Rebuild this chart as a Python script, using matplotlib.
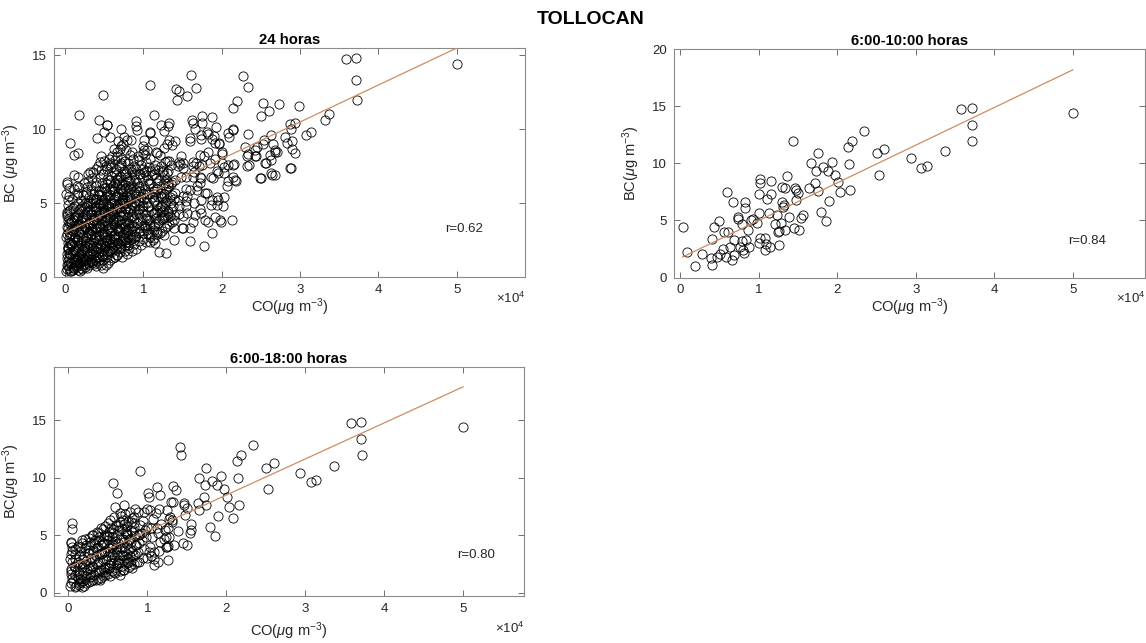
import matplotlib
matplotlib.use('Agg')
import matplotlib.pyplot as plt
import numpy as np

# CO in units of 1e4 ug/m3, BC in ug/m3
# 6:00-10:00 subset
pts_6_10 = [
    (0.03, 4.44), (0.08, 2.25), (0.19, 1.02), (0.28, 2.05), (0.39, 1.75), (0.40, 1.08),
    (0.41, 3.36), (0.43, 4.44), (0.49, 4.91), (0.47, 1.81), (0.51, 2.10), (0.54, 2.54),
    (0.56, 4.00), (0.59, 7.46), (0.61, 3.95), (0.58, 1.81), (0.63, 2.69), (0.66, 1.52),
    (0.67, 6.64), (0.68, 3.27), (0.69, 1.96), (0.73, 5.32), (0.74, 5.09), (0.76, 2.63),
    (0.78, 4.68), (0.78, 3.22), (0.80, 2.40), (0.81, 2.16), (0.83, 6.58), (0.83, 6.05),
    (0.84, 3.27), (0.86, 4.15), (0.87, 2.69), (0.90, 5.03), (0.93, 5.15), (0.98, 4.80),
    (1.00, 5.67), (1.00, 7.31), (1.01, 8.63), (1.02, 8.30), (1.02, 3.50), (1.00, 2.98),
    (1.08, 3.50), (1.08, 2.40), (1.09, 2.92), (1.11, 6.90), (1.13, 5.61), (1.14, 2.63),
    (1.15, 7.31), (1.16, 8.48), (1.21, 4.68), (1.23, 5.47), (1.24, 3.95), (1.26, 4.09),
    (1.26, 2.84), (1.28, 4.80), (1.29, 6.58), (1.30, 7.89), (1.31, 6.14), (1.32, 6.35),
    (1.33, 7.87), (1.34, 4.15), (1.36, 8.92), (1.39, 5.32), (1.43, 11.99), (1.45, 4.30),
    (1.46, 7.81), (1.47, 7.66), (1.48, 6.78), (1.50, 7.37), (1.51, 4.15), (1.54, 5.18),
    (1.56, 5.47), (1.64, 7.81), (1.66, 10.00), (1.72, 8.30), (1.73, 9.36), (1.75, 10.88),
    (1.75, 7.60), (1.79, 5.70), (1.82, 9.70), (1.86, 4.91), (1.88, 9.36), (1.89, 6.70),
    (1.93, 10.15), (1.97, 8.98), (2.01, 8.33), (2.03, 7.46), (2.14, 11.46), (2.15, 9.94),
    (2.16, 7.66), (2.19, 11.93), (2.34, 12.87), (2.50, 10.88), (2.53, 8.98), (2.60, 11.26),
    (2.94, 10.44), (3.07, 9.62), (3.14, 9.80), (3.37, 11.05), (3.58, 14.74), (3.71, 14.82),
    (3.71, 13.36), (3.72, 11.96), (5.00, 14.40),
]

# points added in the 6:00-18:00 window
pts_6_18_extra = [
    (1.42, 12.70), (0.91, 10.55), (0.57, 9.50), (0.62, 8.65), (0.05, 6.06), (0.05, 5.50),
    (2.08, 6.50), (1.65, 7.15), (1.33, 9.30), (1.12, 9.20), (1.55, 5.95), (0.03, 4.30),
    (0.18, 4.55),
    (0.02, 0.55), (0.06, 1.00), (0.03, 1.60), (0.07, 2.30), (0.02, 2.95), (0.05, 3.65), (0.04, 2.05),
    (0.10, 0.60), (0.12, 1.25), (0.11, 1.85), (0.13, 2.65), (0.09, 3.35), (0.12, 4.05), (0.14, 0.85),
    (0.17, 0.50), (0.16, 0.95), (0.18, 1.50), (0.17, 2.20), (0.19, 2.90), (0.16, 3.60), (0.18, 4.35),
    (0.23, 0.80), (0.22, 1.40), (0.24, 2.00), (0.23, 2.75), (0.25, 3.40), (0.22, 4.10), (0.21, 4.70),
    (0.29, 1.00), (0.28, 1.65), (0.30, 2.30), (0.29, 3.00), (0.31, 3.70), (0.28, 4.40), (0.30, 5.05),
    (0.35, 1.10), (0.34, 1.80), (0.36, 2.50), (0.35, 3.20), (0.37, 3.90), (0.34, 4.60), (0.36, 5.30),
    (0.41, 1.30), (0.42, 2.00), (0.40, 2.70), (0.43, 3.40), (0.41, 4.10), (0.39, 4.85), (0.42, 5.60),
    (0.47, 1.50), (0.46, 2.20), (0.48, 2.90), (0.47, 3.60), (0.45, 4.30), (0.48, 5.00), (0.46, 5.80),
    (0.53, 1.40), (0.52, 2.10), (0.54, 2.85), (0.53, 3.55), (0.55, 4.25), (0.52, 4.95), (0.54, 5.65),
    (0.53, 6.30), (0.59, 1.70), (0.60, 2.40), (0.58, 3.10), (0.61, 3.80), (0.59, 4.50), (0.57, 5.20),
    (0.60, 5.90), (0.58, 6.60), (0.65, 1.90), (0.64, 2.60), (0.66, 3.30), (0.65, 4.00), (0.67, 4.70),
    (0.64, 5.45), (0.66, 6.15), (0.65, 6.90), (0.71, 2.00), (0.70, 2.80), (0.72, 3.60), (0.71, 4.40),
    (0.73, 5.20), (0.70, 6.00), (0.72, 6.80), (0.71, 7.60), (0.77, 2.20), (0.76, 3.00), (0.78, 3.80),
    (0.77, 4.60), (0.79, 5.45), (0.76, 6.25), (0.78, 7.05), (0.83, 2.50), (0.82, 3.30), (0.84, 4.10),
    (0.85, 4.90), (0.83, 5.70), (0.81, 6.50), (0.84, 7.30), (0.89, 2.70), (0.88, 3.50), (0.90, 4.30),
    (0.89, 5.10), (0.91, 5.90), (0.88, 7.00), (0.95, 3.00), (0.96, 3.80), (0.94, 4.60), (0.97, 5.40),
    (0.95, 6.20), (0.96, 7.00), (1.05, 3.20), (1.04, 4.00), (1.06, 4.80), (1.05, 5.60), (1.07, 6.40),
    (1.04, 7.20), (1.15, 3.60), (1.16, 4.40), (1.14, 5.20), (1.17, 6.00), (1.25, 4.00), (1.24, 4.80),
    (1.26, 5.60), (1.27, 6.40), (1.25, 7.20),
    (0.04, 0.80), (0.05, 1.30), (0.04, 1.90), (0.05, 2.65), (0.04, 3.35), (0.05, 4.00),
    (0.08, 0.45), (0.09, 1.55), (0.08, 2.20), (0.09, 2.95), (0.08, 3.75), (0.14, 0.70),
    (0.15, 1.20), (0.14, 1.80), (0.15, 2.50), (0.14, 3.20), (0.15, 3.95), (0.20, 0.60),
    (0.21, 1.15), (0.20, 1.75), (0.21, 2.45), (0.20, 3.15), (0.21, 3.85), (0.26, 0.90),
    (0.27, 1.35), (0.26, 2.10), (0.27, 2.70), (0.26, 3.40), (0.27, 4.10), (0.26, 4.75),
    (0.32, 1.05), (0.33, 1.55), (0.32, 2.20), (0.33, 2.90), (0.32, 3.55), (0.33, 4.30),
    (0.32, 5.00), (0.38, 1.20), (0.39, 1.95), (0.38, 2.65), (0.39, 3.35), (0.38, 4.00),
    (0.39, 4.55), (0.38, 5.20), (0.44, 1.40), (0.45, 2.05), (0.44, 2.80), (0.45, 3.50),
    (0.44, 4.20), (0.45, 4.95), (0.44, 5.55), (0.50, 1.60), (0.51, 2.40), (0.50, 3.15),
    (0.51, 3.85), (0.50, 4.55), (0.51, 5.30), (0.50, 6.05), (0.56, 1.85), (0.57, 2.60),
    (0.56, 3.35), (0.57, 4.10), (0.56, 4.80), (0.57, 5.55), (0.62, 2.10), (0.63, 2.85),
    (0.62, 3.55), (0.63, 4.30), (0.62, 5.05), (0.63, 5.80), (0.68, 2.35), (0.69, 3.15),
    (0.68, 3.90), (0.69, 4.70), (0.68, 5.50), (0.69, 6.35), (0.74, 2.55), (0.75, 3.35),
    (0.74, 4.20), (0.75, 5.00), (0.74, 5.80), (0.80, 2.75), (0.81, 3.60), (0.80, 4.40),
    (0.81, 5.25), (0.80, 6.10),
]

# remaining points of the full 24 h record
pts_24_extra = [
    (0.49, 12.35), (0.18, 11.00), (0.06, 9.07), (0.11, 8.28), (0.16, 8.40), (0.03, 6.41),
    (0.15, 6.14), (0.16, 6.80), (0.32, 7.15), (0.30, 6.50), (0.44, 10.65), (0.54, 10.30),
    (0.50, 9.80), (0.41, 9.40), (0.46, 8.20), (0.45, 7.80), (0.58, 7.70), (1.09, 13.00),
    (1.13, 11.00), (1.22, 10.30), (1.26, 9.86), (1.33, 10.40), (1.45, 12.60), (1.61, 13.70),
    (1.67, 12.80), (1.56, 12.25), (1.62, 10.65), (1.60, 9.20), (1.87, 10.85), (1.75, 10.45),
    (1.91, 9.07), (1.82, 8.44), (2.27, 13.60), (2.33, 9.70), (2.09, 9.50), (2.53, 11.80),
    (2.73, 11.70), (2.63, 9.60), (2.99, 11.60), (2.89, 10.00), (2.83, 9.10), (2.90, 8.70),
    (2.89, 7.40), (3.32, 10.60), (2.44, 8.17), (2.33, 8.33), (2.35, 7.60), (2.50, 6.70),
    (2.63, 7.04), (2.68, 6.93), (2.70, 8.50), (2.61, 8.28), (2.57, 7.76), (2.63, 7.90),
    (2.18, 6.48), (2.14, 6.80), (2.13, 3.88), (2.08, 7.60), (2.03, 5.46), (1.95, 5.20),
    (1.88, 2.98), (1.78, 2.12), (1.60, 2.42), (1.63, 3.77), (1.82, 3.77), (1.99, 3.77),
    (1.91, 4.10), (1.29, 1.67), (1.20, 1.74), (1.18, 3.09), (1.39, 3.30), (1.51, 3.30),
    (1.54, 4.80), (1.69, 6.14), (1.74, 5.24), (1.59, 5.90), (1.63, 6.80), (1.74, 6.70),
    (1.86, 6.80), (1.95, 7.04), (2.03, 7.04), (1.67, 7.70), (1.78, 8.17), (1.71, 7.50),
    (1.91, 8.00), (1.50, 7.70), (1.48, 8.17), (1.44, 7.50), (1.35, 7.60), (1.41, 9.20),
    (1.26, 8.74), (1.18, 8.40), (1.09, 9.75), (1.01, 9.30), (0.99, 8.85), (0.90, 10.20),
    (0.79, 9.30), (0.75, 9.50), (0.86, 8.50), (0.71, 8.85), (0.67, 8.17), (1.56, 4.33),
    (1.65, 5.00), (1.74, 4.33), (1.39, 2.53), (1.31, 4.10), (1.44, 5.24), (1.14, 4.33),
    (1.05, 3.88), (1.32, 10.20), (1.64, 10.40), (1.59, 9.40), (1.73, 9.60), (1.81, 9.80),
    (1.90, 9.56), (1.96, 9.10), (2.00, 8.50), (2.08, 9.75), (2.15, 10.00), (2.87, 10.37),
    (2.81, 9.50), (2.90, 9.20), (2.93, 8.40), (2.66, 9.00), (2.68, 8.60), (2.54, 9.30),
    (2.45, 8.80), (2.30, 8.80), (2.42, 8.60), (0.53, 10.30), (0.71, 10.00), (0.92, 9.95),
    (1.09, 9.80), (1.30, 9.00), (1.98, 3.90), (1.79, 3.90), (1.60, 3.30), (1.49, 3.30),
    (1.94, 4.90), (2.02, 4.80), (1.81, 5.70), (1.87, 5.24), (1.94, 5.40), (2.07, 6.20),
    (2.17, 6.60), (1.72, 6.40), (1.68, 5.90), (1.72, 4.60), (1.66, 4.20), (2.32, 8.17),
    (2.43, 8.17), (2.49, 6.70), (2.64, 6.90), (2.55, 7.70), (2.68, 8.50), (2.87, 7.40),
    (2.32, 7.50), (2.15, 7.60), (1.85, 7.70), (1.94, 7.20), (2.00, 7.70), (1.64, 7.50),
    (1.55, 6.80), (1.72, 6.80), (1.51, 5.50), (1.45, 4.80), (1.39, 4.20), (1.35, 5.00),
    (1.26, 5.50), (1.22, 4.40),
    (0.01, 0.45), (0.03, 0.80), (0.02, 1.30), (0.04, 1.95), (0.01, 2.70), (0.03, 3.40),
    (0.02, 4.15), (0.04, 4.90), (0.01, 5.60), (0.03, 6.30), (0.07, 0.40), (0.08, 0.95),
    (0.06, 1.55), (0.09, 2.25), (0.07, 2.95), (0.08, 3.75), (0.06, 4.55), (0.09, 5.30),
    (0.12, 0.60), (0.14, 1.15), (0.13, 1.85), (0.15, 2.55), (0.12, 3.25), (0.14, 4.05),
    (0.13, 4.85), (0.15, 5.55), (0.12, 6.90), (0.19, 0.45), (0.18, 0.90), (0.20, 1.60),
    (0.21, 2.30), (0.18, 3.05), (0.20, 3.80), (0.19, 4.60), (0.21, 5.25), (0.18, 6.10),
    (0.25, 0.70), (0.24, 1.30), (0.26, 2.00), (0.27, 2.70), (0.24, 3.50), (0.26, 4.30),
    (0.25, 5.00), (0.27, 5.75), (0.24, 6.40), (0.31, 0.85), (0.30, 1.45), (0.32, 2.15),
    (0.33, 2.85), (0.30, 3.60), (0.32, 4.55), (0.31, 5.45), (0.33, 6.25), (0.30, 7.00),
    (0.37, 0.90), (0.36, 1.60), (0.38, 2.40), (0.39, 3.10), (0.36, 3.90), (0.38, 4.75),
    (0.37, 5.60), (0.39, 6.45), (0.36, 7.10), (0.43, 1.00), (0.42, 1.70), (0.44, 2.50),
    (0.45, 3.30), (0.42, 4.10), (0.44, 4.95), (0.43, 5.85), (0.45, 6.75), (0.42, 7.55),
    (0.49, 0.60), (0.48, 1.20), (0.50, 1.90), (0.51, 2.70), (0.48, 3.50), (0.50, 4.40),
    (0.49, 5.20), (0.51, 6.05), (0.48, 6.95), (0.50, 7.85), (0.55, 1.00), (0.54, 1.60),
    (0.56, 2.30), (0.57, 3.00), (0.54, 3.80), (0.56, 4.70), (0.55, 5.50), (0.57, 6.40),
    (0.54, 7.30), (0.56, 8.00), (0.61, 1.30), (0.60, 2.00), (0.62, 2.80), (0.63, 3.60),
    (0.60, 4.40), (0.62, 5.30), (0.61, 6.20), (0.63, 7.10), (0.60, 8.20), (0.67, 1.50),
    (0.66, 2.30), (0.68, 3.10), (0.69, 3.90), (0.66, 4.80), (0.68, 5.70), (0.67, 6.60),
    (0.69, 7.50), (0.66, 8.50), (0.68, 9.20), (0.73, 1.40), (0.72, 2.10), (0.74, 2.90),
    (0.75, 3.70), (0.72, 4.50), (0.74, 5.40), (0.73, 6.30), (0.75, 7.20), (0.72, 8.00),
    (0.74, 9.00), (0.79, 1.60), (0.78, 2.40), (0.80, 3.20), (0.81, 4.10), (0.78, 5.00),
    (0.80, 5.90), (0.79, 6.80), (0.81, 7.70), (0.78, 8.60), (0.85, 1.80), (0.84, 2.60),
    (0.86, 3.50), (0.87, 4.40), (0.84, 5.30), (0.86, 6.20), (0.85, 7.10), (0.87, 8.00),
    (0.84, 9.30), (0.91, 1.90), (0.90, 2.80), (0.92, 3.70), (0.93, 4.60), (0.90, 5.50),
    (0.92, 6.40), (0.91, 7.30), (0.93, 8.20), (0.97, 2.20), (0.96, 3.10), (0.98, 4.00),
    (0.99, 4.90), (0.96, 5.80), (0.98, 6.70), (0.97, 7.60), (0.99, 8.40), (1.03, 2.40),
    (1.02, 3.30), (1.04, 4.20), (1.05, 5.10), (1.02, 6.00), (1.04, 6.90), (1.03, 7.80),
    (1.05, 8.60), (1.09, 2.70), (1.08, 3.60), (1.10, 4.50), (1.11, 5.40), (1.08, 6.30),
    (1.10, 7.20), (1.09, 8.00), (1.15, 2.30), (1.14, 3.20), (1.16, 4.00), (1.17, 4.90),
    (1.14, 5.80), (1.16, 6.70), (1.15, 7.60), (1.21, 3.00), (1.20, 3.90), (1.22, 4.80),
    (1.23, 5.70), (1.20, 6.60), (1.22, 7.50), (1.21, 8.30), (1.27, 3.30), (1.26, 4.20),
    (1.28, 5.10), (1.29, 6.00), (1.26, 6.90), (1.28, 7.80), (1.33, 3.60), (1.32, 4.50),
    (1.34, 5.40), (1.35, 6.30), (1.32, 7.20), (1.39, 3.90), (1.38, 4.80), (1.40, 5.70),
    (1.41, 6.60),
    (0.05, 0.65), (0.04, 1.10), (0.05, 1.65), (0.04, 2.35), (0.05, 3.05), (0.04, 3.80),
    (0.05, 4.50), (0.04, 5.25), (0.10, 0.50), (0.11, 1.05), (0.10, 1.70), (0.11, 2.40),
    (0.10, 3.10), (0.11, 3.90), (0.10, 4.70), (0.11, 6.00), (0.16, 0.75), (0.17, 1.35),
    (0.16, 2.05), (0.17, 2.75), (0.16, 3.45), (0.17, 4.20), (0.16, 5.00), (0.17, 5.70),
    (0.22, 0.55), (0.23, 1.10), (0.22, 1.85), (0.23, 2.55), (0.22, 3.30), (0.23, 4.00),
    (0.22, 4.85), (0.23, 5.55), (0.28, 0.60), (0.27, 1.15), (0.28, 1.80), (0.27, 2.45),
    (0.28, 3.20), (0.27, 3.95), (0.28, 4.85), (0.27, 5.60), (0.28, 6.10), (0.34, 0.95),
    (0.33, 1.25), (0.34, 1.95), (0.33, 2.60), (0.34, 3.35), (0.33, 4.20), (0.34, 5.00),
    (0.33, 5.85), (0.34, 6.70), (0.40, 0.75), (0.39, 1.35), (0.40, 2.10), (0.39, 2.85),
    (0.40, 3.60), (0.39, 4.45), (0.40, 5.30), (0.39, 6.15), (0.40, 7.30), (0.46, 0.85),
    (0.47, 1.45), (0.46, 2.25), (0.47, 3.00), (0.46, 3.85), (0.47, 4.70), (0.46, 5.55),
    (0.47, 6.40), (0.46, 7.25), (0.52, 0.80), (0.53, 1.75), (0.52, 2.50), (0.53, 3.25),
    (0.52, 4.10), (0.53, 4.85), (0.52, 5.80), (0.53, 6.65), (0.52, 7.55), (0.58, 1.20),
    (0.59, 2.15), (0.58, 2.60), (0.59, 3.40), (0.58, 4.20), (0.59, 5.00), (0.58, 5.95),
    (0.59, 6.85), (0.58, 7.60), (0.64, 1.40), (0.65, 2.15), (0.64, 2.95), (0.65, 3.75),
    (0.64, 4.60), (0.65, 5.50), (0.64, 6.40), (0.65, 7.30), (0.64, 7.95), (0.70, 1.70),
    (0.71, 2.45), (0.70, 3.30), (0.71, 4.15), (0.70, 5.05), (0.71, 5.95), (0.70, 6.85),
    (0.71, 7.75), (0.70, 8.70), (0.76, 1.75), (0.77, 2.55), (0.76, 3.40), (0.77, 4.30),
    (0.76, 5.20), (0.77, 6.05), (0.76, 6.95), (0.77, 7.85), (0.82, 2.00), (0.83, 2.85),
    (0.82, 3.70), (0.83, 4.55), (0.82, 5.45), (0.83, 6.40), (0.82, 7.35), (0.83, 8.30),
    (0.88, 2.25), (0.89, 3.10), (0.88, 3.95), (0.89, 4.85), (0.88, 5.75), (0.89, 6.65),
    (0.88, 7.55), (0.94, 2.45), (0.95, 3.35), (0.94, 4.25), (0.95, 5.15), (0.94, 6.05),
    (0.95, 6.95), (0.94, 7.90), (1.00, 2.60), (1.01, 3.55), (1.00, 4.45), (1.01, 5.35),
    (1.00, 6.25), (1.01, 7.15), (1.06, 2.95), (1.07, 3.85), (1.06, 4.75), (1.07, 5.65),
    (1.06, 6.55), (1.07, 7.45), (1.12, 2.55), (1.13, 3.45), (1.12, 4.30), (1.13, 5.15),
    (1.12, 6.05), (1.13, 6.95), (1.18, 2.90), (1.19, 3.65), (1.18, 4.55), (1.19, 5.45),
    (1.18, 6.35), (1.19, 7.25), (1.24, 3.10), (1.25, 4.45), (1.24, 5.35), (1.25, 6.25),
    (1.24, 7.15), (1.30, 3.45), (1.31, 4.35), (1.30, 5.25), (1.31, 6.15), (1.30, 7.05),
    (1.36, 3.75), (1.37, 4.65), (1.36, 5.55), (1.37, 6.45),
]

# linear fits (slope per 1e4 ug/m3, intercept) and correlation labels
fit_24 = (2.50, 3.00)
fit_6_10 = (3.30, 1.70)
fit_6_18 = (3.14, 2.20)
r_24 = 'r=0.62'
r_6_10 = 'r=0.84'
r_6_18 = 'r=0.80'

pts_6_18 = pts_6_10 + pts_6_18_extra
pts_24 = pts_6_18 + pts_24_extra

plt.rcParams['font.family'] = ['Liberation Sans', 'DejaVu Sans']
plt.rcParams['mathtext.fontset'] = 'custom'
plt.rcParams['mathtext.rm'] = 'Liberation Sans'
plt.rcParams['mathtext.it'] = 'Liberation Sans:italic'

W, H = 1146, 643
fig = plt.figure(figsize=(W / 100, H / 100), dpi=100)
txt = '#262626'


def panel(rect, pts, fit, rtxt, title, ylabel, xlim, ylim, yticks, xlab_y, off_y, r_pos):
    ax = fig.add_axes(rect)
    x = np.array([p[0] for p in pts])
    y = np.array([p[1] for p in pts])
    ax.plot(x, y, 'o', ms=6.6, mfc='none', mec='black', mew=0.6, zorder=2)
    xx = np.array([x.min(), x.max()])
    ax.plot(xx, fit[0] * xx + fit[1], color='#cf8b62', lw=0.9, zorder=3)
    ax.set_xlim(xlim)
    ax.set_ylim(ylim)
    ax.set_xticks([0, 1, 2, 3, 4, 5])
    ax.set_yticks(yticks)
    ax.tick_params(direction='in', length=4, width=0.6, color='#555555',
                   labelcolor=txt, labelsize=9.5, top=True, right=True, pad=5)
    for s in ax.spines.values():
        s.set_color('#8a8a8a')
        s.set_linewidth(0.8)
    ax.set_title(title, fontsize=10.7, fontweight='bold', pad=3, color='black')
    ax.set_ylabel(ylabel, fontsize=10.5, color=txt)
    ax.yaxis.set_label_coords(-32 / 471, 0.5)
    ax.set_xlabel(r'CO($\mu$g m$^{-3}$)', fontsize=10.5, color=txt)
    ax.xaxis.set_label_coords(0.5, xlab_y)
    ax.text(1.0, off_y, r'$\times$10$^{4}$', transform=ax.transAxes,
            ha='right', va='center', fontsize=9.5, color=txt)
    ax.text(r_pos[0], r_pos[1], rtxt, ha='left', va='center', fontsize=9.5, color=txt)
    return ax


panel([54 / W, 1 - 277.3 / H, 471 / W, 229.3 / H], pts_24, fit_24, r_24, '24 horas',
      r'BC ($\mu$g m$^{-3}$)', (-0.14, 5.87), (0, 15.5), [0, 5, 10, 15],
      -0.083, -0.09, (4.85, 3.27))
panel([674 / W, 1 - 277.5 / H, 471 / W, 228.2 / H], pts_6_10, fit_6_10, r_6_10, '6:00-10:00 horas',
      r'BC($\mu$g m$^{-3}$)', (-0.08, 5.92), (0, 20), [0, 5, 10, 15, 20],
      -0.083, -0.09, (4.94, 3.24))
panel([54 / W, 1 - 596 / H, 470 / W, 229.3 / H], pts_6_18, fit_6_18, r_6_18, '6:00-18:00 horas',
      r'BC($\mu$g m$^{-3}$)', (-0.18, 5.77), (-0.3, 19.65), [0, 5, 10, 15],
      -0.105, -0.14, (4.92, 3.25))

fig.text(591 / W, 1 - 20 / H, 'TOLLOCAN', ha='center', va='center',
         fontsize=14, fontweight='bold', color='black')

fig.savefig('out.png', dpi=100)
